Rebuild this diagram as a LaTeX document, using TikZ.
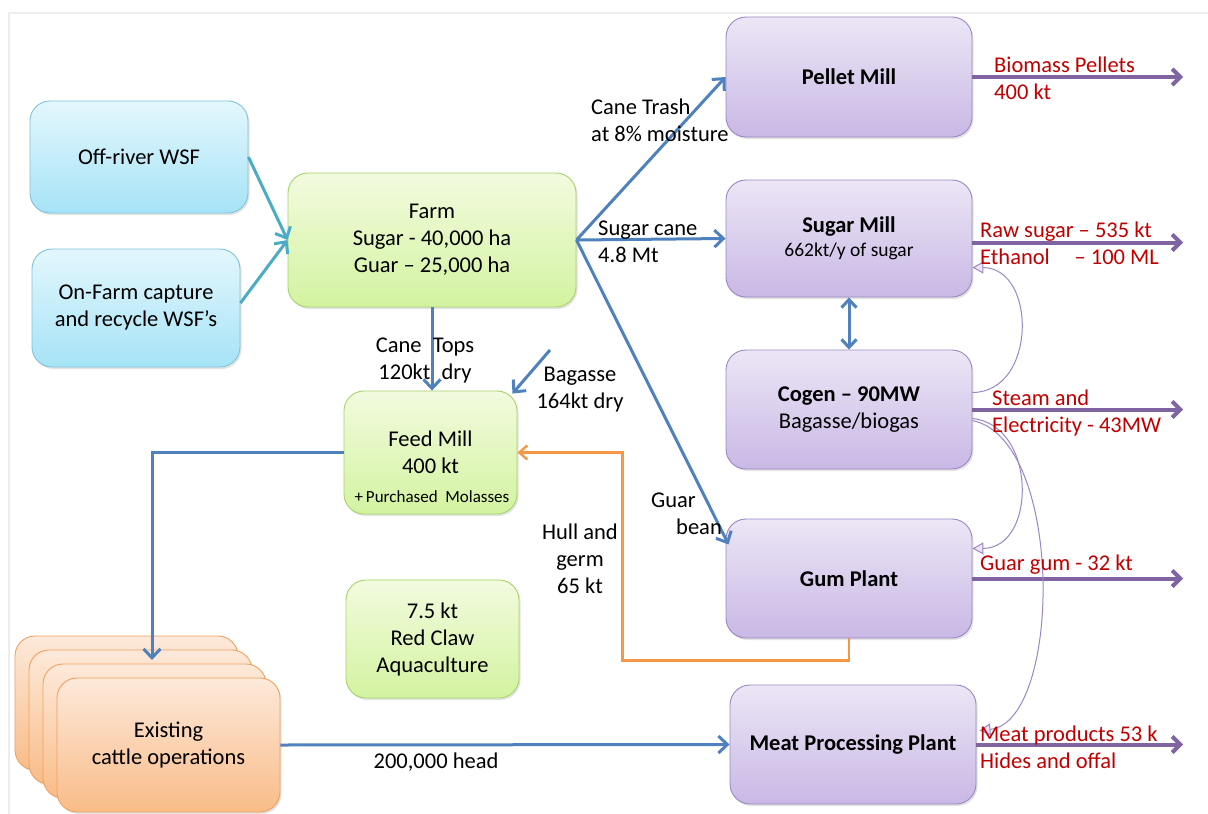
\documentclass[tikz,border=0pt]{standalone}
\usepackage{fontspec}
\setmainfont{Carlito}
\usetikzlibrary{arrows.meta,calc,shadows}
\definecolor{bluetop}{HTML}{E3F7FD}
\definecolor{bluebot}{HTML}{A6E3F7}
\definecolor{bluebd}{HTML}{7FC4DA}
\definecolor{greentop}{HTML}{F2FBDF}
\definecolor{greenbot}{HTML}{D3F3A0}
\definecolor{greenbd}{HTML}{A8D26A}
\definecolor{purptop}{HTML}{ECE6F6}
\definecolor{purpbot}{HTML}{C9B8E5}
\definecolor{purpbd}{HTML}{9A88C2}
\definecolor{orgtop}{HTML}{FDE9DA}
\definecolor{orgbot}{HTML}{F9BC88}
\definecolor{orgbd}{HTML}{EFA15E}
\definecolor{arrblue}{HTML}{4F81BD}
\definecolor{arrteal}{HTML}{4BACC6}
\definecolor{arrorg}{HTML}{F79646}
\definecolor{arrpurp}{HTML}{8064A2}
\definecolor{thinpurp}{HTML}{9B86C4}
\definecolor{redtxt}{HTML}{C00000}
\definecolor{framegray}{HTML}{EDEDED}
\begin{document}
\begin{tikzpicture}[x=1pt,y=-1pt,
  every node/.style={font=\fontsize{22.5}{27}\selectfont},
  box/.style={rectangle, rounded corners=20pt, draw, line width=0.9pt, align=center, inner sep=0pt,
    drop shadow={opacity=0.22,shadow xshift=1.5pt,shadow yshift=-2pt}},
  bluebox/.style={box, draw=bluebd, top color=bluetop, bottom color=bluebot},
  greenbox/.style={box, draw=greenbd, top color=greentop, bottom color=greenbot},
  purpbox/.style={box, draw=purpbd, top color=purptop, bottom color=purpbot, minimum width=246pt, minimum height=119pt},
  orgbox/.style={box, draw=orgbd, top color=orgtop, bottom color=orgbot, minimum width=223pt, minimum height=134pt},
  lbl/.style={align=left, inner sep=0pt, text=black},
  redlbl/.style={align=left, inner sep=0pt, text=redtxt, anchor=west},
  bluearr/.style={draw=arrblue, line width=3pt, -{Straight Barb[length=9pt,width=17pt]}},
  tealarr/.style={draw=arrteal, line width=3pt, -{Straight Barb[length=9pt,width=17pt]}},
  orgarr/.style={draw=arrorg, line width=2.4pt, -{Straight Barb[length=8pt,width=14pt]}},
  outarr/.style={draw=arrpurp, line width=4pt, -{Straight Barb[length=8pt,width=16pt]}},
  thinarr/.style={draw=thinpurp, line width=1pt, -{Triangle[open, length=11pt, width=12pt, fill=purptop]}}
]
\useasboundingbox (0,0) rectangle (1208,814);
\fill[white] (0,0) rectangle (1208,814);
\draw[framegray, line width=2pt] (9,814) -- (9,13) -- (1208,13);

% left water boxes
\node[bluebox, minimum width=218pt, minimum height=112pt] (off) at (139,157) {Off-river WSF};
\node[bluebox, minimum width=208pt, minimum height=118pt] (onfarm) at (136,308) {On-Farm capture\\and recycle WSF's};

% green boxes
\node[greenbox, minimum width=288pt, minimum height=134pt] (farm) at (432,240) {Farm\\Sugar - 40,000 ha\\Guar -- 25,000 ha};
\node[greenbox, minimum width=173pt, minimum height=123pt] (feed) at (430.5,452.5) {Feed Mill\\400 kt};
\node[inner sep=0pt, font=\fontsize{17}{20}\selectfont] (feednote) at (432,497) {+\,Purchased\ \ Molasses};
\node[greenbox, minimum width=173pt, minimum height=118pt] (claw) at (432.5,639) {7.5 kt\\Red Claw\\Aquaculture};

% cattle stack
\node[orgbox] (cb1) at (126.5,703) {};
\node[orgbox] (cb2) at (140.5,717) {};
\node[orgbox] (cb3) at (154.5,731) {};
\node[orgbox] (cattle) at (168.5,745) {Existing\\cattle operations};

% purple boxes
\node[purpbox, minimum height=120pt] (pellet) at (849,77) {\textbf{Pellet Mill}};
\node[purpbox, minimum height=117pt] (sugar) at (849,238.5) {\textbf{Sugar Mill}\\[-3pt]{\fontsize{19.5}{22}\selectfont 662kt/y of sugar}};
\node[purpbox] (cogen) at (849,409.5) {\textbf{Cogen -- 90MW}\\Bagasse/biogas};
\node[purpbox] (gum) at (849,578.5) {\textbf{Gum Plant}};
\node[purpbox] (meat) at (853,744.5) {\textbf{Meat Processing Plant}};

% coordinates
\coordinate (outx) at (1183,0);
\coordinate (bagsrc) at (550,350);
\coordinate (cattlein) at (152,660);

% water arrows
\draw[tealarr] (off.east) -- (farm.west);
\draw[tealarr] ($(onfarm.east)+(0,-5)$) -- (farm.west);

% farm outputs
\draw[bluearr] (farm.east) -- (pellet.west);
\draw[bluearr] (farm.east) -- (sugar.west);
\draw[bluearr] (farm.east) -- ($(gum.west)+(3,-34)$);
\draw[bluearr] (farm.south) -- (farm.south |- feed.north);
\draw[bluearr] (bagsrc) -- ($(feed.north east)+(-5,3)$);
\draw[bluearr] (feed.west) -| (cattlein);
\draw[bluearr] (cattle.east) -- (meat.west);
\draw[draw=arrblue, line width=3pt, {Straight Barb[length=8pt,width=15pt]}-{Straight Barb[length=8pt,width=15pt]}] (sugar.south) -- (cogen.north);

% orange
\draw[orgarr] (gum.south) -- ++(0,22) -| ($(feed.east)+(105,0)$) -- (feed.east);

% outputs
\draw[outarr] (pellet.east) -- (pellet.east -| outx);
\draw[outarr] ($(sugar.east)+(0,4)$) -- ($(sugar.east -| outx)+(0,4)$);
\draw[outarr] (cogen.east) -- (cogen.east -| outx);
\draw[outarr] (gum.east) -- (gum.east -| outx);
\draw[outarr] (meat.east) -- (meat.east -| outx);

% thin recycle curves
\draw[thinarr] ($(cogen.east)+(0,-17)$) .. controls (1037,392) and (1037,268) .. ($(sugar.east)+(0,29)$);
\draw[thinarr] ($(cogen.east)+(0,9)$) .. controls (1037,425) and (1037,548) .. ($(gum.east)+(0,-30)$);
\draw[thinarr] ($(cogen.east)+(0,11)$) .. controls (1065,440) and (1062,722) .. ($(meat.east)+(3,-14)$);

% labels
\node[lbl, anchor=west] (ltrash) at (591,120) {Cane Trash\\at 8\% moisture};
\node[lbl, anchor=west] (lcane) at (598,242) {Sugar cane\\4.8 Mt};
\node[lbl, align=center] (ltops) at (425,361) {Cane\enspace Tops\\120kt\enspace dry};
\node[lbl, align=center] (lbag) at (580,390) {Bagasse\\164kt dry};
\node[lbl, anchor=west] (lguar) at (651,514) {Guar\\\hspace*{25pt}bean};
\node[lbl, align=center] (lhull) at (580,559) {Hull and\\germ\\65 kt};
\node[lbl] (lhead) at (436,762) {200,000 head};

\node[redlbl] (obio) at (994,78) {Biomass Pellets\\400 kt};
\node[redlbl] (osug) at (980,243) {Raw sugar -- 535 kt\\Ethanol\hspace{1.1em}-- 100 ML};
\node[redlbl] (ostm) at (992,413) {Steam and\\Electricity - 43MW};
\node[redlbl] (ogum) at (980,565) {Guar gum - 32 kt};
\node[redlbl] (omeat) at (980,747) {Meat products 53 k\\Hides and offal};
\end{tikzpicture}
\end{document}
